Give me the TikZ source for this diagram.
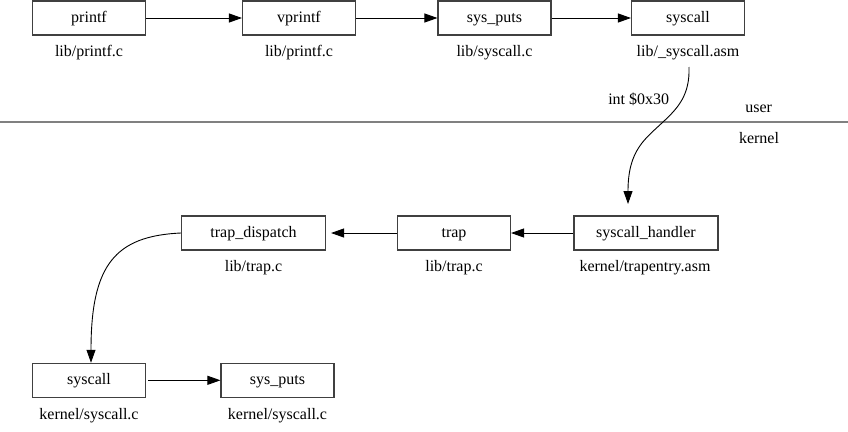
\documentclass[tikz,border=0pt]{standalone}
\usepackage{fontspec}
\setmainfont{Liberation Serif}
\usetikzlibrary{arrows.meta}
\begin{document}
\begin{tikzpicture}[x=1pt,y=-1pt,
  font=\fontsize{16}{19}\selectfont,
  every node/.style={text height=11.5pt, text depth=3.5pt},
  fn/.style={draw=black!75, line width=1.1pt, rectangle, minimum height=34pt, minimum width=113pt, inner sep=0pt},
  lbl/.style={inner sep=0pt},
  edge/.style={line width=0.9pt, -{Triangle[length=13pt,width=9pt]}}]
\useasboundingbox (0,0) rectangle (848,431);
% top row
\node[fn] (printf) at (89,18) {printf};
\node[fn] (vprintf) at (299,18) {vprintf};
\node[fn] (sysputsu) at (494.5,18) {sys\_puts};
\node[fn] (syscallu) at (688,18) {syscall};
\node[lbl] (l1) at (89,52) {lib/printf.c};
\node[lbl] (l2) at (299,52) {lib/printf.c};
\node[lbl] (l3) at (494.5,52) {lib/syscall.c};
\node[lbl] (l4) at (688,52) {lib/\_syscall.asm};
\draw[edge] (printf.east) -- (vprintf.west);
\draw[edge] (vprintf.east) -- (sysputsu.west);
\draw[edge] (sysputsu.east) -- (syscallu.west);
% separator
\coordinate (sepl) at (0,121.7);
\coordinate (sepr) at (848,121.7);
\draw[line width=2pt, black!50] (sepl) -- (sepr);
\node[lbl] (user) at (758.7,108.3) {user};
\node[lbl] (kernel) at (759,139.3) {kernel};
\node[lbl] (int) at (638.7,100.7) {int \$0x30};
% second row
\node[fn, minimum width=144pt] (dispatch) at (253.5,233) {trap\_dispatch};
\node[fn] (trap) at (454,233) {trap};
\node[fn, minimum width=144pt] (handler) at (646,233) {syscall\_handler};
\node[lbl] (l5) at (253.5,267.7) {lib/trap.c};
\node[lbl] (l6) at (454,267.7) {lib/trap.c};
\node[lbl] (l7) at (645,267.7) {kernel/trapentry.asm};
\draw[edge] (handler.west) -- (trap.east);
\draw[edge, shorten >=5pt] (trap.west) -- (dispatch.east);
% syscall curve
\coordinate (ctail) at (689,67);
\coordinate (cmid) at (663,122);
\coordinate (htip) at (628,204);
\draw[edge] (ctail) .. controls (690,95) and (678,108) .. (cmid)
  .. controls (645,139) and (628,150) .. (htip);
% third row
\node[fn] (syscallk) at (89,380.3) {syscall};
\node[fn] (sysputsk) at (277.5,380.3) {sys\_puts};
\node[lbl] (l8) at (89,415) {kernel/syscall.c};
\node[lbl] (l9) at (277.5,415) {kernel/syscall.c};
\draw[edge, shorten <=2pt] (syscallk.east) -- (sysputsk.west);
\draw[edge] (dispatch.west) .. controls (115,236) and (91,265) .. (syscallk.north -| 91,0);
\end{tikzpicture}
\end{document}
